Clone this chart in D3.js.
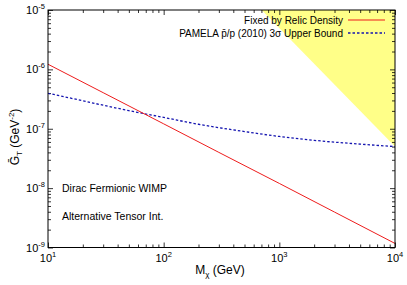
<!DOCTYPE html>
<html>
<head>
<meta charset="utf-8">
<script src="https://cdn.jsdelivr.net/npm/d3@7"></script>
<style>
  body { margin: 0; background: #fff; }
  text { font-family: "Liberation Sans", Arial, sans-serif; fill: #000; }
</style>
</head>
<body>
<div id="chart"></div>
<script>
// values
const relicMass = [10, 30, 100, 300, 1000, 3000, 10000];
const relicG = [1.22e-6, 4.05e-7, 1.21e-7, 4.0e-8, 1.2e-8, 3.95e-9, 1.17e-9];

const pamelaMass = [10, 20, 30, 50, 100, 200, 500, 1000, 2000, 5000, 10000];
const pamelaG = [3.96e-7, 2.96e-7, 2.49e-7, 2.02e-7, 1.55e-7, 1.19e-7, 8.97e-8, 7.41e-8, 6.38e-8, 5.51e-8, 5.0e-8];

// shaded (excluded) corner
const shadeMass = [703, 10000, 10000];
const shadeG = [1e-5, 1e-5, 5.0e-8];

const xTicks = [10, 100, 1000, 10000];
const xTickExp = ['1', '2', '3', '4'];
const yTicks = [1e-9, 1e-8, 1e-7, 1e-6, 1e-5];
const yTickExp = ['-9', '-8', '-7', '-6', '-5'];

const width = 407;
const height = 285;
const margin = { top: 10, right: 12, bottom: 37.5, left: 48 };

const svg = d3.select('#chart')
  .append('svg')
  .attr('width', width)
  .attr('height', height);

const x = d3.scaleLog()
  .domain([10, 10000])
  .range([margin.left, width - margin.right]);

const y = d3.scaleLog()
  .domain([1e-9, 1e-5])
  .range([height - margin.bottom, margin.top]);

function minors(ticks) {
  const out = [];
  ticks.slice(0, -1).forEach(t => {
    for (let k = 2; k <= 9; k++) out.push(t * k);
  });
  return out;
}

// yellow region
const shade = shadeMass.map((m, i) => [m, shadeG[i]]);
svg.append('path')
  .datum(shade)
  .attr('fill', '#ffff88')
  .attr('stroke', 'none')
  .attr('d', d3.line().x(d => x(d[0])).y(d => y(d[1])));

// axes with inward ticks on all four sides
const plotBottom = height - margin.bottom;
const plotRight = width - margin.right;

function tickAxis(axisFn, scale, ticks, size, transform) {
  svg.append('g')
    .attr('transform', transform)
    .call(axisFn(scale).tickValues(ticks).tickSize(size).tickFormat(''))
    .call(g => g.select('.domain').remove())
    .call(g => g.selectAll('line').attr('stroke', '#000').attr('stroke-width', 0.8));
}

tickAxis(d3.axisBottom, x, xTicks, -5, `translate(0,${plotBottom})`);
tickAxis(d3.axisBottom, x, minors(xTicks), -3, `translate(0,${plotBottom})`);
tickAxis(d3.axisTop, x, xTicks, -5, `translate(0,${margin.top})`);
tickAxis(d3.axisTop, x, minors(xTicks), -3, `translate(0,${margin.top})`);
tickAxis(d3.axisLeft, y, yTicks, -5, `translate(${margin.left},0)`);
tickAxis(d3.axisLeft, y, minors(yTicks), -3, `translate(${margin.left},0)`);
tickAxis(d3.axisRight, y, yTicks, -5, `translate(${plotRight},0)`);
tickAxis(d3.axisRight, y, minors(yTicks), -3, `translate(${plotRight},0)`);

// tick labels with superscripts
xTicks.forEach((t, i) => {
  const txt = svg.append('text')
    .attr('x', x(t))
    .attr('y', plotBottom + 14)
    .attr('text-anchor', 'middle')
    .attr('font-size', '11px');
  txt.append('tspan').text('10');
  txt.append('tspan').attr('dy', -5).attr('font-size', '7.5px').text(xTickExp[i]);
});

yTicks.forEach((t, i) => {
  const txt = svg.append('text')
    .attr('x', margin.left - 3)
    .attr('y', y(t) + 4)
    .attr('text-anchor', 'end')
    .attr('font-size', '11px');
  txt.append('tspan').text('10');
  txt.append('tspan').attr('dy', -5).attr('font-size', '7.5px').text(yTickExp[i]);
});

// curves
const line = d3.line()
  .x(d => x(d[0]))
  .y(d => y(d[1]))
  .curve(d3.curveMonotoneX);

const relic = relicMass.map((m, i) => [m, relicG[i]]);
const pamela = pamelaMass.map((m, i) => [m, pamelaG[i]]);

svg.append('path')
  .datum(pamela)
  .attr('fill', 'none')
  .attr('stroke', '#1515b0')
  .attr('stroke-width', 1.3)
  .attr('stroke-dasharray', '2.5,2')
  .attr('d', line);

svg.append('path')
  .datum(relic)
  .attr('fill', 'none')
  .attr('stroke', '#ee1c1c')
  .attr('stroke-width', 1)
  .attr('d', line);

// frame
svg.append('rect')
  .attr('x', margin.left)
  .attr('y', margin.top)
  .attr('width', plotRight - margin.left)
  .attr('height', plotBottom - margin.top)
  .attr('fill', 'none')
  .attr('stroke', '#000')
  .attr('stroke-width', 1);

// legend
const legend = svg.append('g');
legend.append('text')
  .attr('x', 343).attr('y', 23.5)
  .attr('text-anchor', 'end')
  .attr('font-size', '10px')
  .text('Fixed by Relic Density');
legend.append('line')
  .attr('x1', 348).attr('x2', 385).attr('y1', 20).attr('y2', 20)
  .attr('stroke', '#ee1c1c').attr('stroke-width', 1);

legend.append('text')
  .attr('x', 343).attr('y', 36.5)
  .attr('text-anchor', 'end')
  .attr('font-size', '10px')
  .text('PAMELA p\u0304/p (2010) 3\u03c3 Upper Bound');
legend.append('line')
  .attr('x1', 348).attr('x2', 385).attr('y1', 33).attr('y2', 33)
  .attr('stroke', '#1515b0').attr('stroke-width', 1.3)
  .attr('stroke-dasharray', '2.5,2');

// annotations
svg.append('text')
  .attr('x', 62).attr('y', 192)
  .attr('font-size', '10.5px')
  .text('Dirac Fermionic WIMP');
svg.append('text')
  .attr('x', 62).attr('y', 220)
  .attr('font-size', '10.5px')
  .text('Alternative Tensor Int.');

// axis titles
const xl = svg.append('text')
  .attr('x', 220)
  .attr('y', 274)
  .attr('text-anchor', 'middle')
  .attr('font-size', '12px');
xl.append('tspan').text('M');
xl.append('tspan').attr('dy', 3).attr('font-size', '8px').text('\u03c7');
xl.append('tspan').attr('dy', -3).text(' (GeV)');

const yl = svg.append('text')
  .attr('transform', 'translate(19,137) rotate(-90)')
  .attr('text-anchor', 'middle')
  .attr('font-size', '12px');
yl.append('tspan').text('G\u0304');
yl.append('tspan').attr('dy', 3).attr('font-size', '8px').text('T');
yl.append('tspan').attr('dy', -3).text(' (GeV');
yl.append('tspan').attr('dy', -5).attr('font-size', '8px').text('-2');
yl.append('tspan').attr('dy', 5).text(')');
</script>
</body>
</html>
